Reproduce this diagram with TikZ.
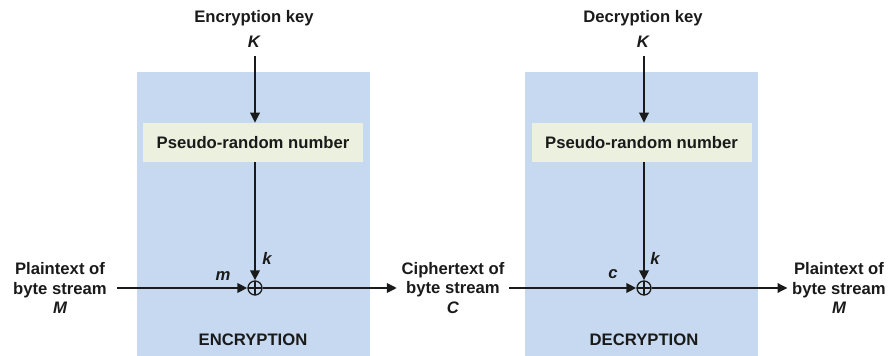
\documentclass[tikz,border=0pt]{standalone}
\usepackage{fontspec}
\setmainfont{Liberation Sans}
\usetikzlibrary{arrows.meta,positioning}
\definecolor{streamblue}{HTML}{C6D9F0}
\definecolor{prngreen}{HTML}{EBF1DE}
\definecolor{inkblack}{HTML}{1A1A1A}

\begin{document}
\begin{tikzpicture}[x=0.75pt,y=-0.75pt,
  every node/.style={font=\fontsize{12.5}{14.6}\selectfont\bfseries,align=center,text=inkblack},
  flow/.style={-{Triangle[length=7.5pt,width=7pt]},line width=1.7pt,draw=inkblack},
  xorgate/.style={circle,draw=inkblack,line width=1pt,minimum size=10.5pt,inner sep=0pt,
    path picture={\draw[line width=1pt,inkblack]
      (path picture bounding box.north) -- (path picture bounding box.south)
      (path picture bounding box.west) -- (path picture bounding box.east);}},
  prnbox/.style={fill=prngreen,minimum width=165pt,minimum height=29.25pt},
  stagebox/.style={fill=streamblue,anchor=north west,minimum width=174.75pt,minimum height=213pt,inner sep=0pt},
  varlab/.style={font=\fontsize{12.5}{14.6}\selectfont\bfseries\itshape}]
\useasboundingbox (0,0) rectangle (896,356);
% encryption side
\node[stagebox] (encbox) at (137,72) {};
\node (enckey) at (254,29) {Encryption key\\[4.2pt]\itshape K};
\node[prnbox] (encprn) at (253,142.5) {Pseudo-random number};
\node[xorgate] (encxor) at (255,288) {};
\node (plainin) at (60,288) {Plaintext of\\byte stream\\\itshape M};
\node (cipher) at (453,288) {Ciphertext of\\byte stream\\\itshape C};
\node at (253,340) {ENCRYPTION};
\node[varlab] (mlab) at (223,276) {m};
\node[varlab] (klab) at (267,258) {k};
\draw[flow,shorten <=3pt] (enckey.south -| encxor) -- (encprn.north -| encxor);
\draw[flow] (encprn.south -| encxor) -- (encxor);
\draw[flow,shorten <=4pt] (plainin) -- (encxor);
\draw[flow] (encxor) -- (cipher);
% decryption side
\node[stagebox] (decbox) at (525,72) {};
\node (deckey) at (643,29) {Decryption key\\[4.2pt]\itshape K};
\node[prnbox] (decprn) at (641.5,142.5) {Pseudo-random number};
\node[xorgate] (decxor) at (644,288) {};
\node (plainout) at (839,288) {Plaintext of\\byte stream\\\itshape M};
\node at (644,340) {DECRYPTION};
\node[varlab] (clab) at (613,274) {c};
\node[varlab] (klab2) at (655,258) {k};
\draw[flow,shorten <=3pt] (deckey.south -| decxor) -- (decprn.north -| decxor);
\draw[flow] (decprn.south -| decxor) -- (decxor);
\draw[flow] (cipher) -- (decxor);
\draw[flow] (decxor) -- (plainout);
\end{tikzpicture}
\end{document}
